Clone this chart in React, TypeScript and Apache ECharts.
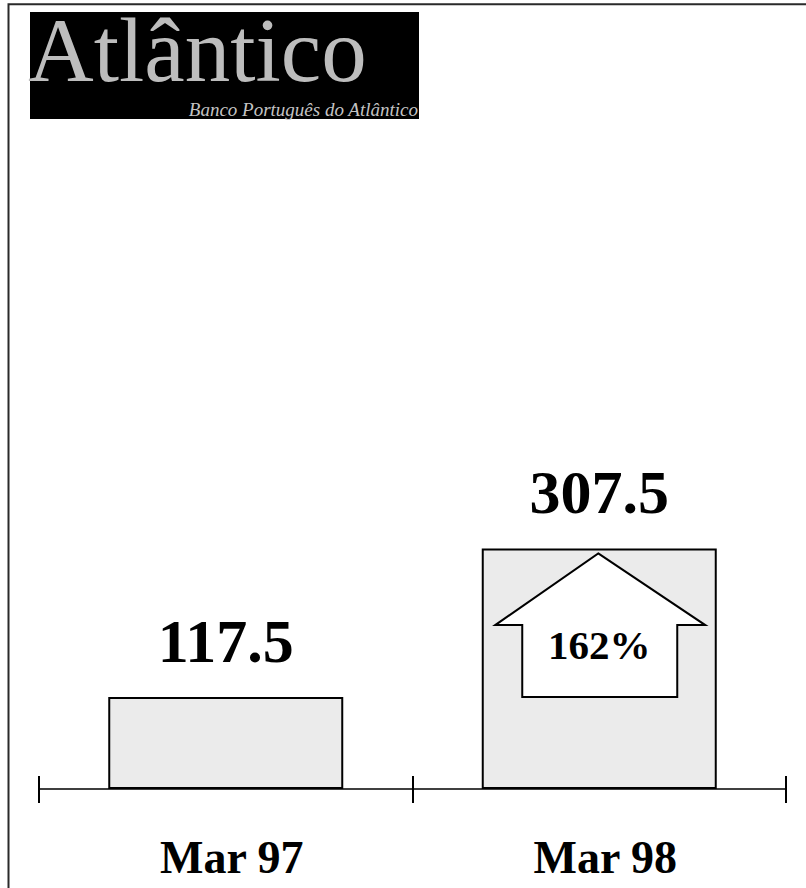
import React, { useEffect, useRef } from "react";
import * as echarts from "echarts";

const categories = ["Mar 97", "Mar 98"];
const values = [117.5, 307.5];
const growthFrom = [117.5];
const growthTo = [307.5];
const growthLabel = ["162%"];
const logoTitle = "Atlântico";
const logoSubtitle = "Banco Português do Atlântico";

const SERIF = "'Liberation Serif', 'Times New Roman', serif";

export default function App() {
  const ref = useRef<HTMLDivElement>(null);

  useEffect(() => {
    if (!ref.current) return;
    const chart = echarts.init(ref.current, undefined, { renderer: "svg" });

    const option: any = {
      animation: false,
      backgroundColor: "#ffffff",
      grid: { left: 39, right: 20, top: 476, bottom: 99 },
      xAxis: [
        {
          type: "category",
          data: categories,
          position: "bottom",
          boundaryGap: true,
          axisLine: { show: true, lineStyle: { color: "#000", width: 1.6 } },
          axisTick: { show: true, inside: false, length: 14, lineStyle: { color: "#000", width: 2 } },
          axisLabel: {
            show: true,
            margin: 45,
            fontFamily: SERIF,
            fontWeight: "bold",
            fontSize: 46,
            lineHeight: 46,
            color: "#000",
            padding: [0, 0, 0, 12],
          },
          splitLine: { show: false },
        },
        {
          type: "category",
          data: categories,
          position: "bottom",
          offset: 0,
          boundaryGap: true,
          axisLine: { show: false },
          axisTick: { show: true, inside: true, length: 13, lineStyle: { color: "#000", width: 2 } },
          axisLabel: { show: false },
          splitLine: { show: false },
        },
      ],
      yAxis: {
        type: "value",
        min: 0,
        max: 400,
        show: false,
        splitLine: { show: false },
      },
      series: [
        {
          type: "bar",
          xAxisIndex: 0,
          data: values,
          barWidth: 235,
          itemStyle: { color: "#ebebeb", borderColor: "#000", borderWidth: 2 },
          label: {
            show: true,
            position: "top",
            distance: 25,
            formatter: (p: any) => String(p.value),
            fontFamily: SERIF,
            fontWeight: "bold",
            fontSize: 62,
            lineHeight: 62,
            color: "#000",
          },
          z: 2,
        },
        {
          type: "custom",
          xAxisIndex: 0,
          z: 5,
          encode: { x: 0, y: [1, 2] },
          data: growthFrom.map((f, i) => [1, f, growthTo[i]]),
          renderItem: (params: any, api: any) => {
            const idx = api.value(0);
            const base = api.coord([idx, api.value(1)]);
            const top = api.coord([idx, api.value(2)]);
            const cx = base[0] - 1;
            const yb = base[1];
            const yt = top[1] + 5;
            const wingY = yb - 72;
            return {
              type: "group",
              children: [
                {
                  type: "polygon",
                  shape: {
                    points: [
                      [cx, yt],
                      [cx + 107, wingY],
                      [cx + 79, wingY],
                      [cx + 79, yb],
                      [cx - 76, yb],
                      [cx - 76, wingY],
                      [cx - 103, wingY],
                    ],
                  },
                  style: { fill: "#ffffff", stroke: "#000", lineWidth: 2 },
                },
                {
                  type: "text",
                  x: cx + 1,
                  y: yb - 52,
                  style: {
                    text: growthLabel[params.dataIndex],
                    fontFamily: SERIF,
                    fontWeight: "bold",
                    fontSize: 41,
                    fill: "#000",
                    align: "center",
                    verticalAlign: "middle",
                  },
                },
              ],
            };
          },
        },
      ],
      graphic: [
        {
          type: "rect",
          shape: { x: 8.5, y: 4.2, width: 900, height: 900 },
          style: { fill: "none", stroke: "#2a2a2a", lineWidth: 2 },
          silent: true,
          z: 10,
        },
        {
          type: "group",
          children: [
            {
              type: "rect",
              shape: { x: 30, y: 12, width: 389, height: 107 },
              style: { fill: "#000" },
            },
            {
              type: "text",
              x: 28,
              y: 50,
              style: {
                text: logoTitle,
                fontFamily: SERIF,
                fontSize: 91,
                lineHeight: 68,
                fill: "#bdbdbd",
                align: "left",
                verticalAlign: "middle",
              },
            },
            {
              type: "text",
              x: 418,
              y: 109.5,
              style: {
                text: logoSubtitle,
                fontFamily: SERIF,
                fontStyle: "italic",
                fontSize: 19,
                lineHeight: 18,
                fill: "#c4c4c4",
                align: "right",
                verticalAlign: "middle",
              },
            },
          ],
        },
      ],
    };

    chart.setOption(option);
    return () => chart.dispose();
  }, []);

  return (
    <div
      ref={ref}
      style={{ position: "fixed", left: 0, top: 0, width: 806, height: 888 }}
    />
  );
}
